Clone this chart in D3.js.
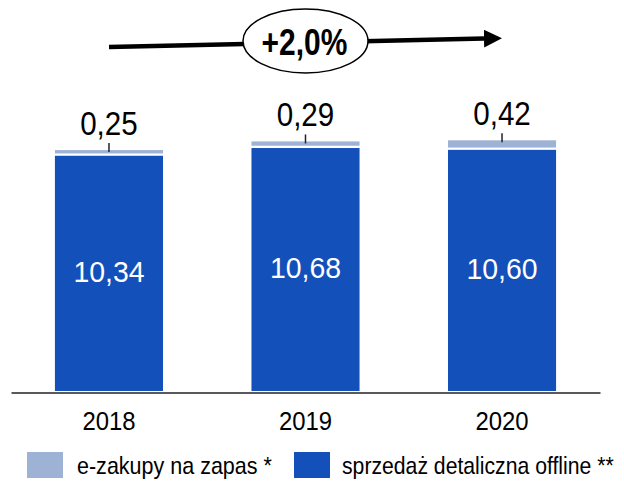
<!DOCTYPE html>
<html>
<head>
<meta charset="utf-8">
<script src="https://cdn.jsdelivr.net/npm/d3@7"></script>
<style>
  body { margin: 0; background: #fff; }
  svg text { font-family: "Liberation Sans Narrow", "Arial Narrow", "Liberation Sans", Arial, sans-serif; }
</style>
</head>
<body>
<div id="chart"></div>
<script>
var years = ["2018", "2019", "2020"];
var offline = [10.34, 10.68, 10.60];
var ezakupy = [0.25, 0.29, 0.42];
var growthLabel = "+2,0%";
var legendLabels = ["e-zakupy na zapas *", "sprzedaż detaliczna offline **"];

var width = 624,
    height = 482;

var blue = "#1450b9",
    light = "#9db2d4";

var pl = d3.formatLocale({decimal: ",", thousands: " ", grouping: [3], currency: ["", " zł"]});
var fmt = pl.format(".2f");

// squeeze text horizontally (the original uses a narrow font)
function squeeze(sel, k) {
  sel.each(function() {
    var w = this.getComputedTextLength();
    d3.select(this)
      .attr("textLength", w * k)
      .attr("lengthAdjust", "spacingAndGlyphs");
  });
}

var svg = d3.select("#chart").append("svg")
    .attr("width", width)
    .attr("height", height);

var x = d3.scaleBand()
    .domain(years)
    .range([11, 600])
    .paddingInner(0.45)
    .paddingOuter(0.2235);

var y = d3.scaleLinear()
    .domain([0, 12])
    .range([391, 391 - 12 * 22.75]);

var data = years.map((d, i) => ({year: d, offline: offline[i], ez: ezakupy[i], total: offline[i] + ezakupy[i]}));

// bars
var bars = svg.append("g").selectAll("g")
    .data(data)
  .join("g");

bars.append("rect")
    .attr("x", d => x(d.year))
    .attr("y", d => y(d.offline))
    .attr("width", x.bandwidth())
    .attr("height", d => y(0) - y(d.offline))
    .attr("fill", blue);

bars.append("rect")
    .attr("x", d => x(d.year))
    .attr("y", d => y(d.total))
    .attr("width", x.bandwidth())
    .attr("height", d => Math.max(0, y(d.offline) - y(d.total) - 2.3))
    .attr("fill", light);

// values inside the blue bars
bars.append("text")
    .attr("x", d => x(d.year) + x.bandwidth() / 2)
    .attr("y", d => (y(0) + y(d.offline)) / 2 + 8.5)
    .attr("text-anchor", "middle")
    .attr("fill", "#fff")
    .attr("font-size", "29px")
    .text(d => fmt(d.offline))
    .call(squeeze, 0.98);

// small ticks + values above the bars
bars.append("line")
    .attr("x1", d => x(d.year) + x.bandwidth() / 2)
    .attr("x2", d => x(d.year) + x.bandwidth() / 2)
    .attr("y1", d => y(d.total) - 7)
    .attr("y2", d => y(d.total) + 2)
    .attr("stroke", "#222")
    .attr("stroke-width", 1.5);

bars.append("text")
    .attr("x", d => x(d.year) + x.bandwidth() / 2)
    .attr("y", d => y(d.total) - 15)
    .attr("text-anchor", "middle")
    .attr("fill", "#000")
    .attr("font-size", "34px")
    .text(d => fmt(d.ez))
    .call(squeeze, 0.87);

// x axis
var xAxis = d3.axisBottom(x).tickSize(0).tickPadding(19);

svg.append("g")
    .attr("class", "x axis")
    .attr("transform", "translate(0," + 392.5 + ")")
    .call(xAxis)
    .call(g => g.select(".domain").attr("stroke", "#222").attr("stroke-width", 1.6))
    .call(g => g.selectAll("text")
        .attr("font-size", "26.5px")
        .attr("fill", "#000")
        .attr("font-family", null)
        .call(squeeze, 0.9));

// growth arrow
var defs = svg.append("defs");
defs.append("marker")
    .attr("id", "arrowhead")
    .attr("viewBox", "0 0 10 10")
    .attr("refX", 0)
    .attr("refY", 5)
    .attr("markerUnits", "userSpaceOnUse")
    .attr("markerWidth", 18)
    .attr("markerHeight", 18)
    .attr("orient", "auto")
  .append("path")
    .attr("d", "M0,0L10,5L0,10Z")
    .attr("fill", "#000");

svg.append("line")
    .attr("x1", 109)
    .attr("y1", 47)
    .attr("x2", 484)
    .attr("y2", 38.6)
    .attr("stroke", "#000")
    .attr("stroke-width", 4.5)
    .attr("marker-end", "url(#arrowhead)");

svg.append("ellipse")
    .attr("cx", 305.5)
    .attr("cy", 41)
    .attr("rx", 62.5)
    .attr("ry", 32)
    .attr("fill", "#fff")
    .attr("stroke", "#000")
    .attr("stroke-width", 1.5);

svg.append("text")
    .attr("x", 304.5)
    .attr("y", 55)
    .attr("text-anchor", "middle")
    .attr("font-size", "37px")
    .attr("font-weight", "bold")
    .text(growthLabel)
    .call(squeeze, 0.81);

// legend
var legendTextX = [50, 48],
    legendTextW = [195, 272];

var legend = svg.append("g").selectAll("g")
    .data(legendLabels)
  .join("g")
    .attr("transform", (d, i) => "translate(" + [27, 294][i] + ",452)");

legend.append("rect")
    .attr("width", 36)
    .attr("height", 26)
    .attr("fill", (d, i) => [light, blue][i]);

legend.append("text")
    .attr("font-size", "24px")
    .attr("fill", "#000")
    .text(d => d)
    .each(function(d, i) {
      var k = legendTextW[i] / this.getComputedTextLength();
      d3.select(this).attr("transform", "translate(" + legendTextX[i] + ",22) scale(" + k + ",1)");
    });
</script>
</body>
</html>
